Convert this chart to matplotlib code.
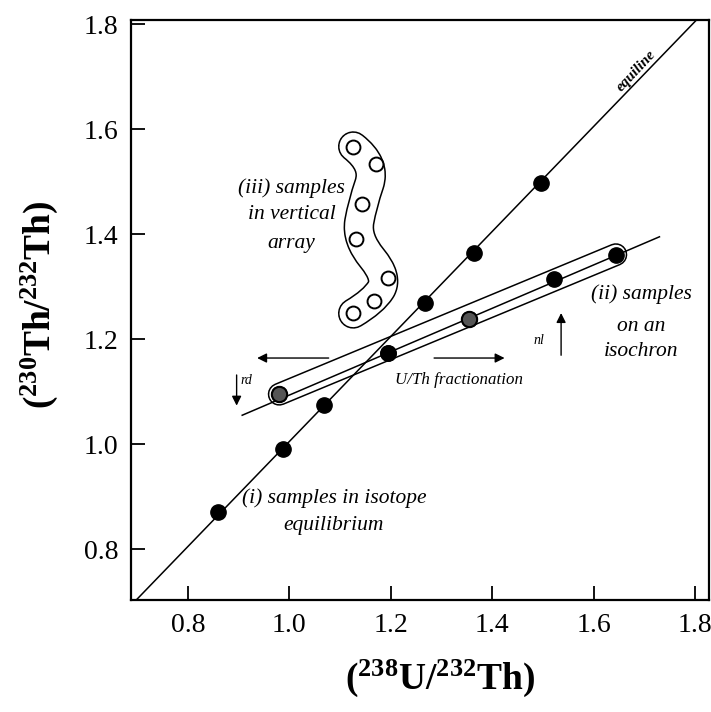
import numpy as np
import matplotlib.pyplot as plt
from matplotlib.path import Path
from matplotlib.patches import PathPatch

plt.rcParams['font.family'] = ['Liberation Serif', 'DejaVu Serif']
plt.rcParams['mathtext.default'] = 'regular'

# (i) samples on the equiline
equi_x = [0.86, 0.988, 1.069, 1.195, 1.268, 1.365, 1.497]
equi_y = [0.87, 0.991, 1.075, 1.173, 1.268, 1.364, 1.497]
# (ii) samples on an isochron
iso_x = [0.98, 1.195, 1.355, 1.522, 1.644]
iso_y = [1.095, 1.173, 1.239, 1.315, 1.361]
grey_x = [0.98, 1.355]
grey_y = [1.095, 1.239]
# (iii) samples in a vertical array
vert_x = [1.126, 1.171, 1.144, 1.132, 1.195, 1.166, 1.126]
vert_y = [1.567, 1.533, 1.457, 1.391, 1.317, 1.272, 1.249]

# reference lines
equi_line_x = [0.69, 1.83]
equi_line_y = [0.695, 1.835]
iso_line_x = [0.907, 1.73]
iso_line_y = [1.055, 1.395]

ticks = [0.8, 1.0, 1.2, 1.4, 1.6, 1.8]


def smooth_path(xs, ys):
    # quadratic bezier through the midpoints, samples used as control points
    pts = list(zip(xs, ys))
    verts = [pts[0]]
    codes = [Path.MOVETO]
    for i in range(1, len(pts) - 1):
        mid = ((pts[i][0] + pts[i + 1][0]) / 2, (pts[i][1] + pts[i + 1][1]) / 2)
        if i == len(pts) - 2:
            mid = pts[-1]
        verts += [pts[i], mid]
        codes += [Path.CURVE3, Path.CURVE3]
    return Path(verts, codes)


def band(ax, path, width, color, z):
    p = PathPatch(path, fill=False, lw=width, edgecolor=color, zorder=z,
                  capstyle='round', joinstyle='round')
    ax.add_patch(p)


fig = plt.figure(figsize=(7.11, 7.12), dpi=100)
ax = fig.add_axes([0.1842, 0.1573, 0.8129, 0.8146])

# envelope around the isochron samples
ax.plot([iso_x[0], iso_x[-1]], [iso_y[0], iso_y[-1]], color='black', lw=16.5,
        solid_capstyle='round', zorder=2)
ax.plot([iso_x[0], iso_x[-1]], [iso_y[0], iso_y[-1]], color='white', lw=14.3,
        solid_capstyle='round', zorder=2.1)
# envelope around the vertical array
vpath = smooth_path(vert_x, vert_y)
band(ax, vpath, 22, 'black', 2)
band(ax, vpath, 19.8, 'white', 2.1)

ax.plot(equi_line_x, equi_line_y, color='black', lw=1.1, zorder=3)
ax.plot(iso_line_x, iso_line_y, color='black', lw=1.1, zorder=3)

ax.plot(equi_x, equi_y, 'o', color='black', ms=11, zorder=4)
ax.plot(iso_x, iso_y, 'o', color='black', ms=11, zorder=4)
ax.plot(grey_x, grey_y, 'o', color='#555555', mec='black', mew=1.5, ms=11, zorder=4.1)
ax.plot(vert_x, vert_y, 'o', mfc='white', mec='black', mew=1.4, ms=10, zorder=4)

# fractionation arrows
arr = dict(arrowstyle='-|>', lw=1.0, color='black', mutation_scale=14)
ax.annotate('', xy=(0.931, 1.164), xytext=(1.083, 1.164), arrowprops=arr)
ax.annotate('', xy=(1.43, 1.164), xytext=(1.28, 1.164), arrowprops=arr)
ax.annotate('', xy=(0.896, 1.068), xytext=(0.896, 1.137), arrowprops=arr)
ax.annotate('', xy=(1.536, 1.255), xytext=(1.536, 1.164), arrowprops=arr)

it = dict(style='italic', ha='center', va='center')
ax.text(1.088, 0.898, '(i) samples in isotope', fontsize=15.5, **it)
ax.text(1.088, 0.844, 'equilibrium', fontsize=15.5, **it)
ax.text(1.694, 1.285, '(ii) samples', fontsize=15.5, **it)
ax.text(1.694, 1.225, 'on an', fontsize=15.5, **it)
ax.text(1.694, 1.176, 'isochron', fontsize=15.5, **it)
ax.text(1.004, 1.487, '(iii) samples', fontsize=15.5, **it)
ax.text(1.004, 1.438, 'in vertical', fontsize=15.5, **it)
ax.text(1.004, 1.382, 'array', fontsize=15.5, **it)
ax.text(1.335, 1.122, 'U/Th fractionation', fontsize=12.2, **it)
ax.text(0.915, 1.122, 'rd', fontsize=10, **it)
ax.text(1.493, 1.198, 'nl', fontsize=10, **it)
ax.text(1.684, 1.711, 'equiline', fontsize=11, weight='bold', rotation=47, **it)

ax.set_xlim(0.6876, 1.8276)
ax.set_ylim(0.703, 1.808)
ax.set_xticks(ticks)
ax.set_yticks(ticks)
ax.set_xticklabels(['%.1f' % t for t in ticks])
ax.set_yticklabels(['%.1f' % t for t in ticks])
ax.tick_params(direction='in', length=10, width=1.3, labelsize=20, pad=9,
               top=False, right=False)
for s in ax.spines.values():
    s.set_linewidth(1.6)

ax.set_xlabel('($^{238}$U/$^{232}$Th)', fontsize=27, fontweight='bold')
ax.set_ylabel('($^{230}$Th/$^{232}$Th)', fontsize=27, fontweight='bold')
ax.xaxis.set_label_coords(0.535, -0.1)
ax.yaxis.set_label_coords(-0.123, 0.509)

fig.savefig('out.png', dpi=100)
